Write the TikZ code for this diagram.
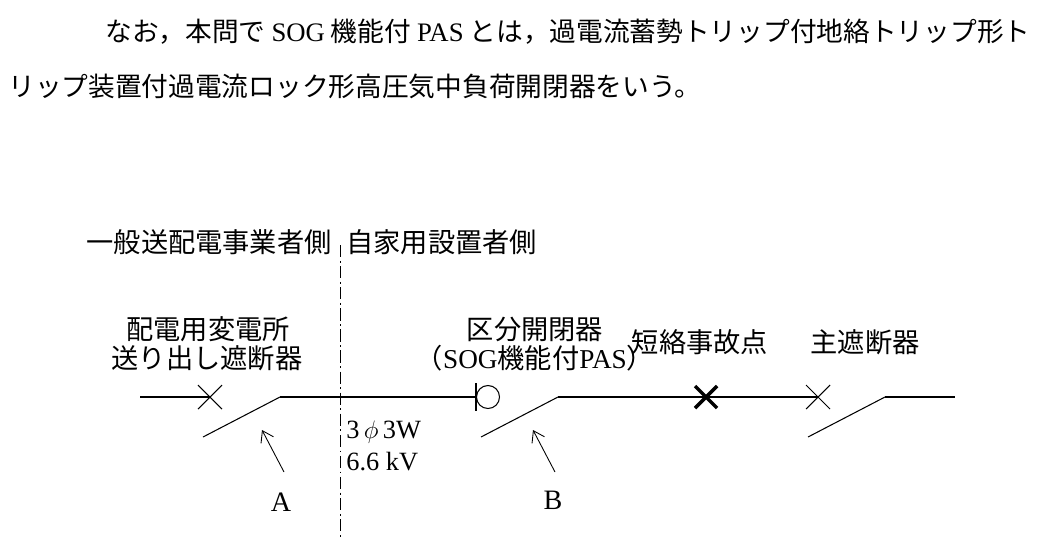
\documentclass[tikz,border=0pt]{standalone}
\usepackage{fontspec}
\setmainfont{Liberation Serif}
\newfontfamily\jp{Noto Sans CJK JP}
\usetikzlibrary{calc,arrows.meta}
\begin{document}
\begin{tikzpicture}[x=0.02cm,y=-0.02cm,
    lbl/.style={font=\jp\fontsize{15.5}{17}\selectfont,inner sep=0pt},
    para/.style={font=\jp\fontsize{15.2}{17}\selectfont,inner sep=0pt,anchor=west},
    wire/.style={line width=0.6pt},
    blade/.style={line width=0.6pt}]
    \useasboundingbox (0,0) rectangle (1037,542);

    % Paragraph
    \node[para] (p1) at (105,32) {なお，本問で {\rmfamily SOG} 機能付 {\rmfamily PAS} とは，過電流蓄勢トリップ付地絡トリップ形ト};
    \node[para] (p2) at (8,86) {リップ装置付過電流ロック形高圧気中負荷開閉器をいう。};

    % Key points on the line
    \coordinate (L0) at (140,397);
    \coordinate (SA) at (280,397);
    \coordinate (PB) at (476,397);
    \coordinate (SB) at (558,397);
    \coordinate (SM) at (885,397);
    \coordinate (L1) at (955,397);

    % Boundary
    \draw[line width=0.5pt,dash pattern=on 7pt off 2pt on 1pt off 2pt] (340,245) -- (340,538);
    \node[lbl,anchor=east] (grid) at (332,242) {一般送配電事業者側};
    \node[lbl,anchor=west] (own) at (346,242) {自家用設置者側};

    % Feeder breaker
    \draw[wire] (L0) -- (210,397);
    \draw[wire] (198,385) -- (222,409) (198,409) -- (222,385);
    \draw[blade] (203,437) -- (SA);
    \draw[wire] (SA) -- (PB);
    \node[lbl] (fd1) at (208,329) {配電用変電所};
    \node[lbl] (fd2) at (207,358) {送り出し遮断器};

    % PAS
    \draw[wire] (476,383) -- (476,411);
    \node[draw,circle,minimum size=0.46cm,inner sep=0pt,line width=0.6pt] (pas) at (488,397) {};
    \draw[blade] (481,437) -- (SB);
    \draw[wire] (SB) -- (818,397);
    \node[lbl] (pa1) at (535,329) {区分開閉器};
    \node[lbl] (pa2) at (535,358) {（{\rmfamily SOG}機能付{\rmfamily PAS}）};

    % Fault point
    \draw[line width=2pt] (695,386) -- (717,408) (695,408) -- (717,386);
    \node[lbl] (flt) at (700,342) {短絡事故点};

    % Main breaker
    \draw[wire] (806,385) -- (830,409) (806,409) -- (830,385);
    \draw[blade] (808,437) -- (SM);
    \draw[wire] (SM) -- (L1);
    \node[lbl] (mcb) at (865,342) {主遮断器};

    % Line data
    \node[lbl,anchor=west,font=\rmfamily\fontsize{15}{16}\selectfont] (v1) at (346,432) {3\,$\phi$\,3W};
    \node[lbl,anchor=west,font=\rmfamily\fontsize{15}{16}\selectfont] (v2) at (346,462) {6.6 kV};

    % Pointers
    \node[lbl,font=\rmfamily\fontsize{16}{17}\selectfont] (A) at (281,502) {A};
    \node[lbl,font=\rmfamily\fontsize{16}{17}\selectfont] (B) at (553,500) {B};
    \coordinate (At) at (262,430);
    \coordinate (Bt) at (533,430);
    \draw[line width=0.5pt,-{Straight Barb[length=6pt,width=8pt]}] (284,472) -- (At);
    \draw[line width=0.5pt,-{Straight Barb[length=6pt,width=8pt]}] (555,472) -- (Bt);
\end{tikzpicture}
\end{document}
